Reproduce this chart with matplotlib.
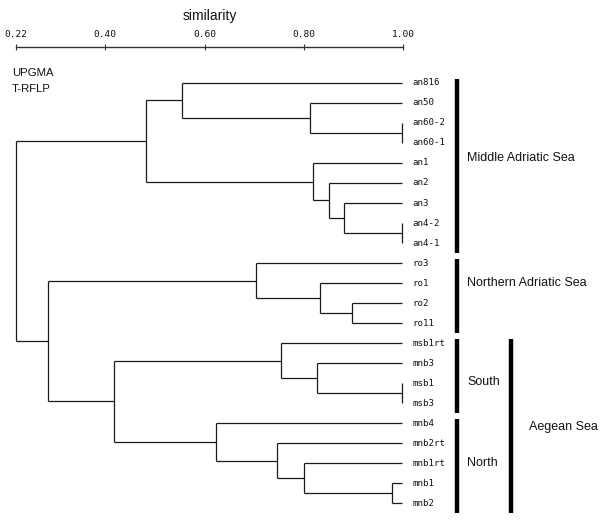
import matplotlib
matplotlib.use("Agg")
import matplotlib.pyplot as plt

# ---------------- data ----------------
leaves = ["an816", "an50", "an60-2", "an60-1", "an1", "an2", "an3", "an4-2", "an4-1",
          "ro3", "ro1", "ro2", "ro11",
          "msb1rt", "mnb3", "msb1", "msb3",
          "mnb4", "mnb2rt", "mnb1rt", "mnb1", "mnb2"]

# UPGMA merges: (left cluster, right cluster, similarity); new clusters numbered from len(leaves)
merge_left = [2, 1, 0, 7, 6, 5, 4, 24, 11, 10, 9, 15, 14, 13, 20, 19, 18, 17, 35, 32, 29]
merge_right = [3, 22, 23, 8, 25, 26, 27, 28, 12, 30, 31, 16, 33, 34, 21, 36, 37, 38, 39, 40, 41]
merge_sim = [1.00, 0.814, 0.555, 1.00, 0.883, 0.852, 0.820, 0.483, 0.899, 0.834, 0.705,
             1.00, 0.828, 0.755, 0.979, 0.802, 0.747, 0.624, 0.418, 0.285, 0.221]

scale_ticks = [0.22, 0.40, 0.60, 0.80, 1.00]
scale_labels = ["0.22", "0.40", "0.60", "0.80", "1.00"]

groups = ["Middle Adriatic Sea", "Northern Adriatic Sea", "South", "North"]
group_first = [0, 9, 13, 17]
group_last = [8, 12, 16, 21]
group_label_y = [3.75, 10.0, 14.95, 19.0]
outer_group = "Aegean Sea"
outer_first, outer_last, outer_label_y = 13, 21, 17.2

# ---------------- figure ----------------
W, H = 605, 525
fig = plt.figure(figsize=(W / 100, H / 100), dpi=100)
ax = fig.add_axes([0, 0, 1, 1])
px0, s0, ppu = 16, 0.22, 495.0        # pixel of 0.22, pixels per similarity unit
ax.set_xlim(s0 - px0 / ppu, s0 + (W - px0) / ppu)
ax.set_ylim((H - 83) / 20.0, -83 / 20.0)
ax.axis("off")

LC = "#1a1a1a"
n = len(leaves)
xpos = {i: 1.0 for i in range(n)}
ypos = {i: float(i) for i in range(n)}
parent_sim = {}
for k, (a, b, s) in enumerate(zip(merge_left, merge_right, merge_sim)):
    node = n + k
    xpos[node] = s
    ypos[node] = (ypos[a] + ypos[b]) / 2
    parent_sim[a] = s
    parent_sim[b] = s
    ax.plot([s, s], [ypos[a], ypos[b]], color=LC, lw=0.9, solid_capstyle="butt")

for node, ps in parent_sim.items():
    ax.plot([ps, xpos[node]], [ypos[node], ypos[node]], color=LC, lw=0.9, solid_capstyle="butt")

for i, name in enumerate(leaves):
    ax.annotate(name, xy=(1.0, i), xytext=(7.5, 0), textcoords="offset points",
                ha="left", va="center", fontsize=6.6, family="DejaVu Sans Mono", color="#111")

# group bars
bar_x1 = s0 + (457 - px0) / ppu
bar_x2 = s0 + (511 - px0) / ppu
lab_x1 = s0 + (467 - px0) / ppu
lab_x2 = s0 + (529 - px0) / ppu
for g, f, l, ly in zip(groups, group_first, group_last, group_label_y):
    ax.plot([bar_x1, bar_x1], [f - 0.2, l + 0.5], color="black", lw=3.2, solid_capstyle="butt")
    ax.text(lab_x1, ly, g, ha="left", va="center", fontsize=9.0, family="Liberation Sans", color="#111")
ax.plot([bar_x2, bar_x2], [outer_first - 0.2, outer_last + 0.5], color="black", lw=3.2, solid_capstyle="butt")
ax.text(lab_x2, outer_label_y, outer_group, ha="left", va="center", fontsize=9.0,
        family="Liberation Sans", color="#111")

# similarity scale
sax = fig.add_axes([px0 / W, 1 - 47 / H, (403 - px0) / W, 0.0001])
sax.set_xlim(0.22, 1.00)
for sp in ["left", "right", "bottom"]:
    sax.spines[sp].set_visible(False)
sax.spines["top"].set_color("#333")
sax.spines["top"].set_linewidth(1.0)
sax.set_yticks([])
sax.xaxis.set_ticks_position("top")
sax.xaxis.set_label_position("top")
sax.set_xticks(scale_ticks)
sax.set_xticklabels(scale_labels, family="DejaVu Sans Mono", fontsize=6.8, color="#111")
sax.tick_params(axis="x", direction="inout", length=4, width=0.8, pad=4, colors="#333",
                labelcolor="#111")
sax.set_xlabel("similarity", family="Liberation Sans", fontsize=10, labelpad=7, color="#111")

fig.text(12 / W, 1 - 73 / H, "UPGMA", ha="left", va="center", fontsize=8.2,
         family="Liberation Sans", color="#111")
fig.text(12 / W, 1 - 89 / H, "T-RFLP", ha="left", va="center", fontsize=8.2,
         family="Liberation Sans", color="#111")

fig.savefig("out.png", dpi=100)
